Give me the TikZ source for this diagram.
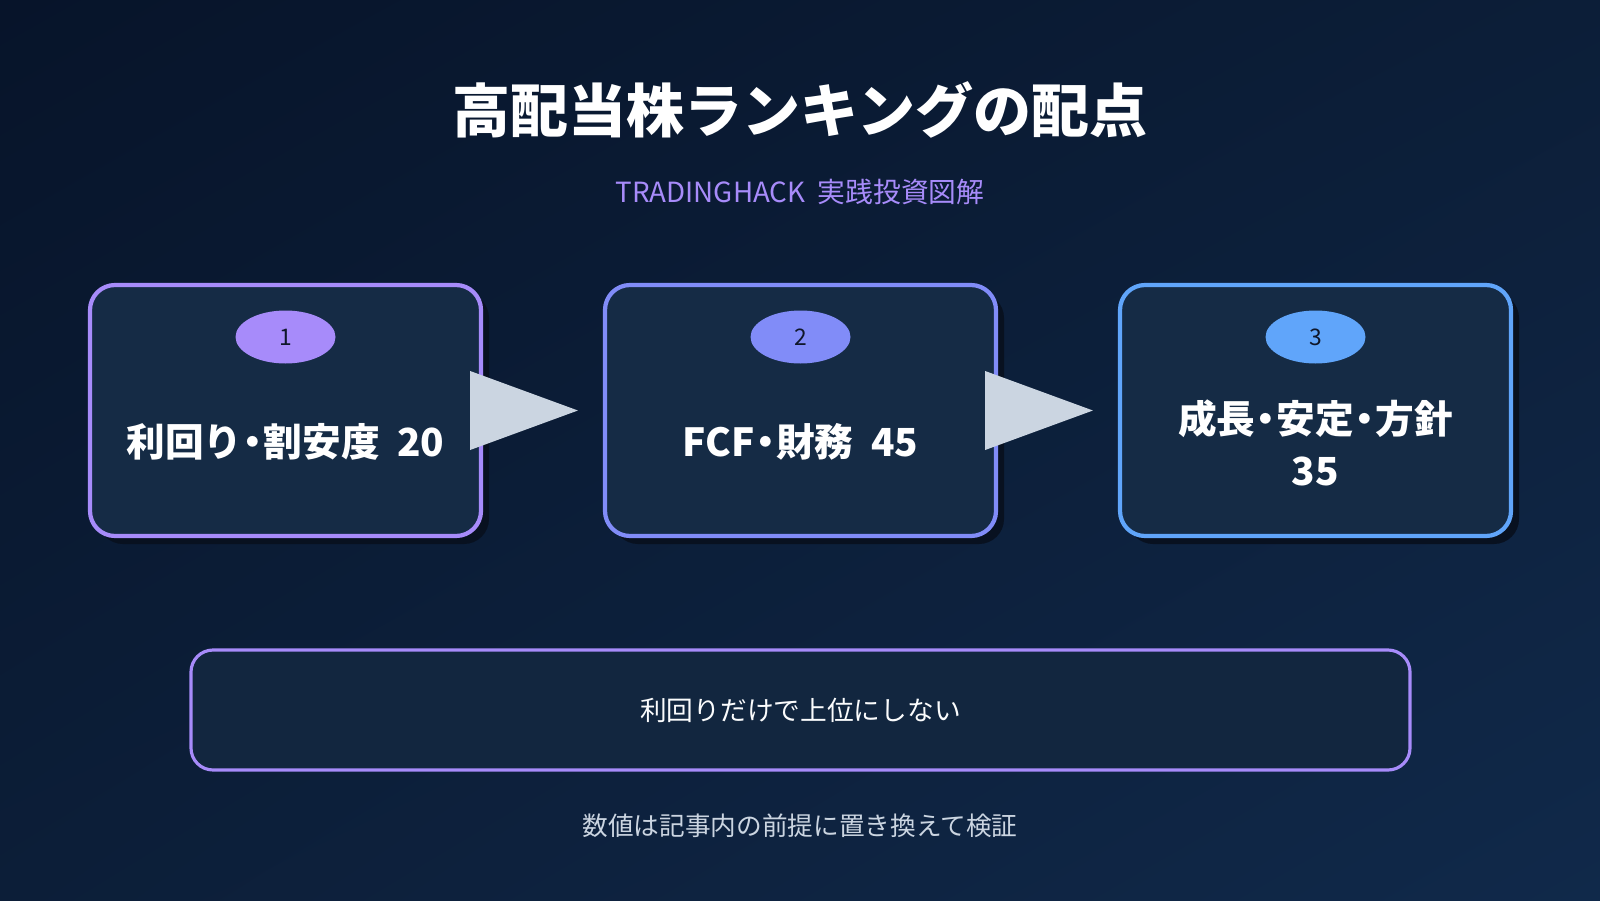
\documentclass[tikz,border=0pt]{standalone}
\usepackage{fontspec}
\setmainfont{Noto Sans CJK JP}
\usepackage{tikz}
\usetikzlibrary{shapes,arrows.meta,positioning,calc,shadings}
\usepackage{xcolor}
\definecolor{bgdark}{HTML}{07142A}
\definecolor{bgmid}{HTML}{0C1E38}
\definecolor{bglight}{HTML}{10294A}
\definecolor{cardfill}{HTML}{152B45}
\definecolor{notefill}{HTML}{12263F}
\definecolor{shadowc}{HTML}{081120}
\definecolor{violet}{HTML}{A78BFA}
\definecolor{indigo}{HTML}{818CF8}
\definecolor{skyblue}{HTML}{60A5FA}
\definecolor{slatelight}{HTML}{CBD5E1}
\definecolor{inkdark}{HTML}{0F172A}
\newcommand{\nakaguro}{\makebox[0.55em]{・}}

\begin{document}
\begin{tikzpicture}[
    card/.style={draw=#1, line width=1.2pt, rounded corners=0.25cm, fill=cardfill,
                 minimum width=3.91cm, minimum height=2.51cm, inner sep=0pt},
    shadow/.style={fill=shadowc, rounded corners=0.25cm,
                 minimum width=3.91cm, minimum height=2.51cm, inner sep=0pt},
    badge/.style={ellipse, fill=#1, minimum width=1.0cm, minimum height=0.53cm,
                  inner sep=0pt, text=inkdark, font=\fontsize{6.5}{7}\selectfont},
    lbl/.style={text=white, align=center, font=\bfseries\fontsize{11}{15}\selectfont},
    tri/.style={fill=slatelight}]
% background
\shade[upper left=bgdark, upper right=bgmid, lower left=bgmid, lower right=bglight]
    (0,0) rectangle (16,9);
\useasboundingbox (0,0) rectangle (16,9);
% title
\node[text=white, font=\bfseries\fontsize{16.5}{19}\selectfont] (title) at (8.0,7.90) {高配当株ランキングの配点};
\node[text=violet, font=\fontsize{7.9}{9}\selectfont] (sub) at (8.0,7.08) {TRADINGHACK\ \ 実践投資図解};
% shadows
\node[shadow] at (2.935,4.815) {};
\node[shadow] at (8.085,4.815) {};
\node[shadow] at (13.235,4.815) {};
% cards
\node[card=violet] (c1) at (2.855,4.895) {};
\node[card=indigo] (c2) at (8.005,4.895) {};
\node[card=skyblue] (c3) at (13.155,4.895) {};
\node[badge=violet] (n1) at (2.855,5.63) {1};
\node[badge=indigo] (n2) at (8.005,5.63) {2};
\node[badge=skyblue] (n3) at (13.155,5.63) {3};
\node[lbl] (t1) at (2.855,4.58) {利回り\nakaguro 割安度\ \ 20};
\node[lbl] (t2) at (8.005,4.58) {FCF\nakaguro 財務\ \ 45};
\node[lbl] (t3) at (13.155,4.57) {成長\nakaguro 安定\nakaguro 方針\\35};
% arrows
\fill[tri] ($(c1.east)+(-0.13,0.395)$) -- ($(c2.west)+(-0.25,0)$) -- ($(c1.east)+(-0.13,-0.395)$) -- cycle;
\fill[tri] ($(c2.east)+(-0.13,0.395)$) -- ($(c3.west)+(-0.25,0)$) -- ($(c2.east)+(-0.13,-0.395)$) -- cycle;
% note
\node[draw=violet, line width=0.9pt, rounded corners=0.22cm, fill=notefill,
      minimum width=12.19cm, minimum height=1.2cm, text=white!92!slatelight,
      font=\fontsize{7.6}{9}\selectfont] (note) at (8.005,1.90) {利回りだけで上位にしない};
\node[text=slatelight, font=\fontsize{7.3}{9}\selectfont] (foot) at (8.0,0.74) {数値は記事内の前提に置き換えて検証};
\end{tikzpicture}
\end{document}
